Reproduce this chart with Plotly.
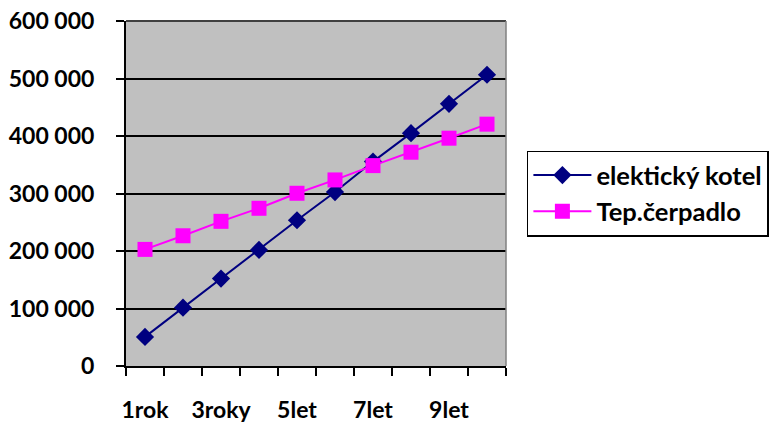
import plotly.graph_objects as go

categories = ["1rok", "2roky", "3roky", "4roky", "5let", "6let", "7let", "8let", "9let", "10let"]
shown_labels = ["1rok", "", "3roky", "", "5let", "", "7let", "", "9let", ""]
elektricky = [50600, 101500, 152000, 201800, 253500, 302500, 355500, 405000, 456000, 506500]
cerpadlo = [202800, 226500, 251600, 274300, 300400, 323600, 348500, 371800, 396200, 420600]
y_ticks = [0, 100000, 200000, 300000, 400000, 500000, 600000]

FONT = "Lato"

fig = go.Figure()
fig.add_trace(go.Scatter(
    x=categories, y=elektricky, name="elektický kotel", mode="lines+markers",
    line=dict(color="#000080", width=2),
    marker=dict(symbol="diamond", size=14, color="#000080"),
))
fig.add_trace(go.Scatter(
    x=categories, y=cerpadlo, name="Tep.čerpadlo", mode="lines+markers",
    line=dict(color="#FF00FF", width=2),
    marker=dict(symbol="square", size=15, color="#FF00FF"),
))

fig.update_layout(
    width=770, height=424,
    margin=dict(l=126, r=264, t=21, b=58, autoexpand=False),
    paper_bgcolor="white", plot_bgcolor="#C0C0C0",
    separators=", ",
    font=dict(family=FONT, size=18, color="black"),
    legend=dict(
        x=1.055, xanchor="left", y=0.50, yanchor="middle",
        bordercolor="black", borderwidth=1.5, bgcolor="white",
        font=dict(family=FONT, size=25.5, color="black", weight="bold"),
        itemwidth=58, tracegroupgap=2,
    ),
    showlegend=True,
)
fig.update_xaxes(
    type="category", categoryorder="array", categoryarray=categories,
    tickmode="array", tickvals=categories, ticktext=shown_labels,
    tickson="boundaries", ticks="outside", ticklen=8, tickwidth=1.5, tickcolor="black",
    showline=True, linecolor="black", linewidth=2, mirror=False,
    showgrid=False, zeroline=False, automargin=False, tickangle=0,
    tickfont=dict(family=FONT, size=23, color="black", weight="bold"),
    ticklabelstandoff=22,
    range=[-0.5, 9.5],
)
fig.update_yaxes(
    range=[0, 600000], tickmode="array", tickvals=y_ticks, tickformat=",d",
    ticks="outside", ticklen=8, tickwidth=1.5, tickcolor="black",
    showline=True, linecolor="black", linewidth=2, automargin=False,
    showgrid=True, gridcolor="black", gridwidth=2, zeroline=False,
    tickfont=dict(family=FONT, size=23, color="black", weight="bold"),
    ticklabelstandoff=17, ticklabeloverflow="allow",
)
fig.add_shape(type="line", xref="paper", yref="paper", x0=0, x1=1, y0=1, y1=1,
              line=dict(color="#404040", width=2))
fig.add_shape(type="line", xref="paper", yref="paper", x0=1, x1=1, y0=0, y1=1,
              line=dict(color="#808080", width=1.5))
fig.write_html("out.html", config={"displayModeBar": False},
               post_script="document.body.style.margin='0';")
